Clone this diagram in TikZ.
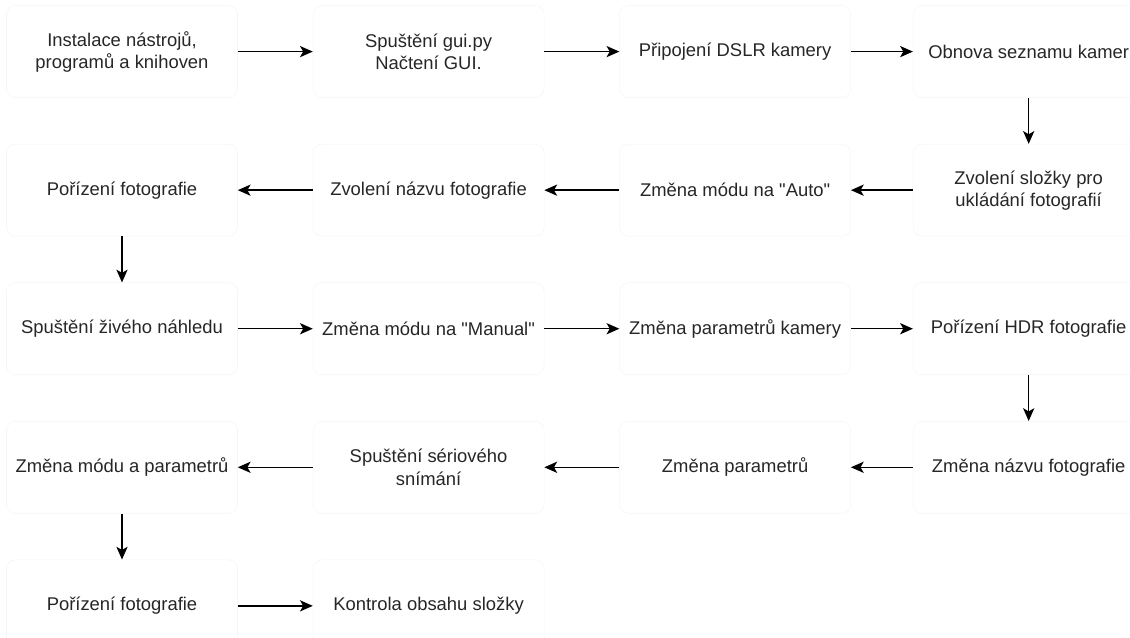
\documentclass[tikz,border=0pt]{standalone}
\usepackage{fontspec}
\setmainfont{Liberation Sans}
\usetikzlibrary{arrows.meta, positioning}

\begin{document}
\begin{tikzpicture}[
    node distance=1.15cm and 1.875cm,
    block/.style={
        rectangle,
        draw=black!4,
        rounded corners=0.22cm,
        text=black!85,
        font=\fontsize{13.1}{15.7}\selectfont,
        align=center,
        minimum width=5.775cm,
        minimum height=2.3cm,
        inner sep=0pt
    },
    arrow/.style={
        -{Stealth[length=0.32cm, width=0.28cm, inset=0.08cm]},
        line width=1pt,
        color=black
    }
]
\useasboundingbox (0,0) rectangle (28.25,-15.925);

% Nodes
\node[block] (inst) at (3.05,-1.29) {Instalace nástrojů,\\programů a knihoven};
\node[block, right=of inst] (gui) {Spuštění gui.py\\Načtení GUI.};
\node[block, right=of gui] (dslr) {Připojení DSLR kamery};
\node[block, right=1.55cm of dslr] (obnova) {Obnova seznamu kamer};
\node[block, below=of obnova] (slozka) {Zvolení složky pro\\ukládání fotografií};
\node[block, below=of dslr] (auto) {Změna módu na \textquotedbl Auto\textquotedbl};
\node[block, below=of gui] (nazev) {Zvolení názvu fotografie};
\node[block, below=of inst] (foto) {Pořízení fotografie};
\node[block, below=of foto] (nahled) {Spuštění živého náhledu};
\node[block, below=of nazev] (manual) {Změna módu na \textquotedbl Manual\textquotedbl};
\node[block, below=of auto] (param) {Změna parametrů kamery};
\node[block, below=of slozka] (hdr) {Pořízení HDR fotografie};
\node[block, below=of hdr] (zmnazev) {Změna názvu fotografie};
\node[block, below=of param] (zmparam) {Změna parametrů};
\node[block, below=of manual] (serie) {Spuštění sériového\\snímání};
\node[block, below=of nahled] (modpar) {Změna módu a parametrů};
\node[block, below=of modpar] (foto2) {Pořízení fotografie};
\node[block, below=of serie] (kontrola) {Kontrola obsahu složky};

% Arrows
\draw[arrow] (inst) -- (gui);
\draw[arrow] (gui) -- (dslr);
\draw[arrow] (dslr) -- (obnova);
\draw[arrow] (obnova) -- (slozka);
\draw[arrow] (slozka) -- (auto);
\draw[arrow] (auto) -- (nazev);
\draw[arrow] (nazev) -- (foto);
\draw[arrow] (foto) -- (nahled);
\draw[arrow] (nahled) -- (manual);
\draw[arrow] (manual) -- (param);
\draw[arrow] (param) -- (hdr);
\draw[arrow] (hdr) -- (zmnazev);
\draw[arrow] (zmnazev) -- (zmparam);
\draw[arrow] (zmparam) -- (serie);
\draw[arrow] (serie) -- (modpar);
\draw[arrow] (modpar) -- (foto2);
\draw[arrow] (foto2) -- (kontrola);

\end{tikzpicture}
\end{document}
